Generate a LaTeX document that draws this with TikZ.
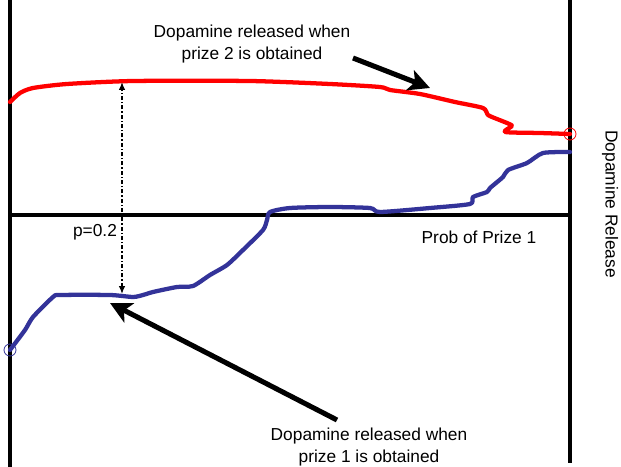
\documentclass[tikz,border=0pt]{standalone}
\usepackage{fontspec}
\setmainfont{Liberation Sans}
\usetikzlibrary{arrows.meta}
\begin{document}
\begin{tikzpicture}[x=0.75pt, y=-0.75pt,
axis/.style={line width=3pt},
prize2/.style={line width=3.2pt, red, line join=round, line cap=round},
prize1/.style={line width=3.2pt, color={rgb,255:red,51;green,51;blue,153}, line join=round, line cap=round},
pointer/.style={line width=3.8pt, -{Stealth[length=16pt, width=16pt, inset=4pt]}},
gap/.style={line width=1.1pt, dash pattern=on 3pt off 1.5pt on 1pt off 1.5pt, {Latex[length=6pt,width=5pt]}-{Latex[length=6pt,width=5pt]}},
note/.style={font=\fontsize{13}{16.5}\selectfont, align=center, inner sep=0pt},
endmark/.style={draw, line width=0.6pt, circle, minimum size=9pt, inner sep=0pt}]
\useasboundingbox (0,0) rectangle (621,467);
% axes
\draw[axis] (10,0) -- (10,467);
\draw[axis] (570,0) -- (570,463);
\draw[axis] (10,215) -- (570,215);
% dopamine curves
\draw[prize2] plot[smooth, tension=0.4] coordinates {(10,102) (20,93) (33,88) (67,84) (133,81) (250,81)
    (330,84) (380,87) (390,90) (420,94) (455,102) (483,108) (488,115) (497,119) (507,123) (512,126)
    (505,132) (540,133) (570,134)};
\draw[prize1] plot[smooth, tension=0.4] coordinates {(10,350) (25,330) (33,317) (53,297) (60,295) (110,295)
    (133,297) (143,295) (153,292) (177,287) (193,286) (210,275) (227,265) (243,250) (263,230) (267,220)
    (270,212) (290,208) (330,207) (370,208) (380,212) (430,208) (470,204) (473,197) (487,192) (490,188)
    (503,177) (508,170) (527,163) (543,153) (570,152)};
\node[endmark, red] (r1) at (570,134) {};
\node[endmark, color={rgb,255:red,51;green,51;blue,153}] (b1) at (10,350) {};
% gap at p=0.2
\coordinate (top) at (122,82);
\coordinate (bot) at (122,294);
\draw[gap] (bot) -- (top);
% labels
\node[note] (p) at (95,232) {p=0.2};
\node[note] (prob) at (479,237) {Prob of Prize 1};
\node[note, rotate=-90] (release) at (610,204) {Dopamine Release};
\node[note] (n2) at (252,44) {Dopamine released when\\prize 2 is obtained};
\node[note] (n1) at (369,447) {Dopamine released when\\prize 1 is obtained};
\coordinate (a2) at (430,88);
\coordinate (a1) at (110,303);
\draw[pointer] (353,58) -- (a2);
\draw[pointer] (337,420) -- (a1);
\end{tikzpicture}
\end{document}
